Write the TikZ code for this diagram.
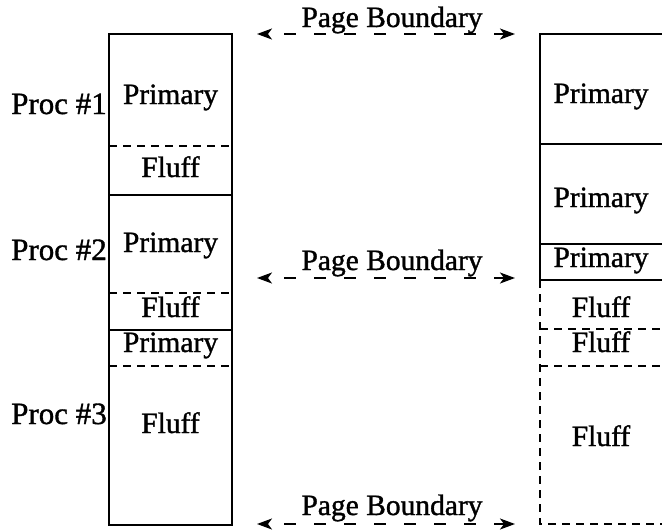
\documentclass[tikz,border=0pt]{standalone}
\usepackage{fontspec}
\setmainfont{Liberation Serif}
\newfontfamily\heavyserif{Liberation Serif}[FakeBold=1.2]
\usetikzlibrary{arrows.meta}
\begin{document}
\begin{tikzpicture}[x=1pt,y=-1pt,
  lbl/.style={font=\heavyserif\fontsize{29.5}{32}\selectfont, inner sep=0pt, anchor=base},
  proc/.style={lbl, font=\heavyserif\fontsize{31}{33}\selectfont, anchor=base east},
  wall/.style={line width=1.6pt},
  seam/.style={line width=1.6pt, dash pattern=on 8pt off 6pt},
  pb/.style={line width=1.6pt, dash pattern=on 12pt off 18pt, dash phase=13pt,
    {Stealth[length=15pt,width=11pt,inset=4pt]}-{Stealth[length=15pt,width=11pt,inset=4pt]}}
]
\useasboundingbox (0,0) rectangle (662,531);
\clip (0,0) rectangle (662,531);

% ---- left column: three processes packed one after another ----
\draw[wall] (109,34) rectangle (232,525);
\draw[seam] (109,146) -- (232,146);
\draw[wall] (109,195) -- (232,195);
\draw[seam] (109,293) -- (232,293);
\draw[wall] (109,330) -- (232,330);
\draw[seam] (109,366) -- (232,366);

\node[lbl] (lp1) at (170.5,104) {Primary};
\node[lbl] (lf1) at (170.5,177) {Fluff};
\node[lbl] (lp2) at (170.5,252) {Primary};
\node[lbl] (lf2) at (170.5,317) {Fluff};
\node[lbl] (lp3) at (170.5,352) {Primary};
\node[lbl] (lf3) at (170.5,433) {Fluff};

\node[proc] (proc1) at (107,114) {Proc \#1};
\node[proc] (proc2) at (107,260) {Proc \#2};
\node[proc] (proc3) at (107,424) {Proc \#3};

% ---- right column: primaries grouped first, fluff after ----
\draw[wall] (540,280) -- (540,34) -- (664,34);
\draw[wall] (540,144) -- (664,144);
\draw[wall] (540,244) -- (664,244);
\draw[wall] (540,280) -- (664,280);
\draw[seam] (540,280) -- (540,524) -- (664,524);
\draw[seam] (540,329) -- (664,329);
\draw[seam] (540,366) -- (664,366);

\node[lbl] (rp1) at (601,103) {Primary};
\node[lbl] (rp2) at (601,207) {Primary};
\node[lbl] (rp3) at (601,267) {Primary};
\node[lbl] (rf1) at (601,317) {Fluff};
\node[lbl] (rf2) at (601,352) {Fluff};
\node[lbl] (rf3) at (601,446) {Fluff};

% ---- page boundaries ----
\coordinate (pbL1) at (257,34);  \coordinate (pbR1) at (515,34);
\coordinate (pbL2) at (257,278); \coordinate (pbR2) at (515,278);
\coordinate (pbL3) at (257,524); \coordinate (pbR3) at (515,524);
\draw[pb] (pbL1) -- (pbR1);
\draw[pb] (pbL2) -- (pbR2);
\draw[pb] (pbL3) -- (pbR3);
\node[lbl] (pbt1) at (392,27) {Page Boundary};
\node[lbl] (pbt2) at (392,270) {Page Boundary};
\node[lbl] (pbt3) at (392,515) {Page Boundary};
\end{tikzpicture}
\end{document}
